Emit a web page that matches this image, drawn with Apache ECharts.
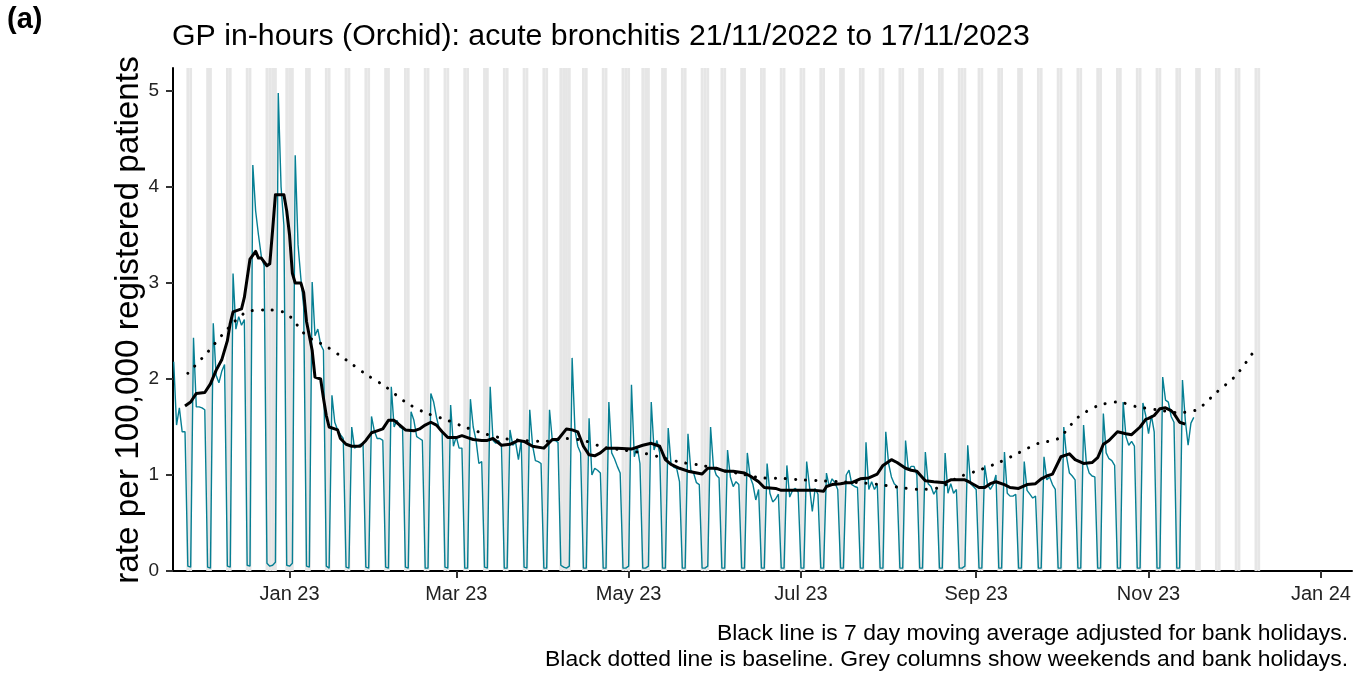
<!DOCTYPE html>
<html>
<head>
<meta charset="utf-8">
<script src="https://cdn.jsdelivr.net/npm/echarts@6/dist/echarts.min.js"></script>
<style>
html, body { margin: 0; padding: 0; background: #fff; }
#chart { width: 1362px; height: 674px; }
</style>
</head>
<body>
<div id="chart"></div>
<script>
// daily rate per 100,000, one row per week (Mon..Sun), starting Mon 21/11/2022
var startDay = [2022, 10, 21];
var dailyRate = [
    2.18, 1.52, 1.70, 1.45, 1.45, 0.05, 0.04,
    2.43, 1.71, 1.71, 1.70, 1.68, 0.04, 0.03,
    2.58, 2.04, 1.96, 2.08, 2.15, 0.05, 0.04,
    3.10, 2.52, 2.65, 2.56, 2.62, 0.06, 0.05,
    4.23, 3.75, 3.50, 3.28, 3.18, 0.08, 0.05,
    0.06, 0.09, 4.98, 4.00, 3.60, 0.06, 0.05,
    0.08, 4.33, 3.40, 3.05, 2.75, 0.05, 0.04,
    3.01, 2.45, 2.52, 2.36, 2.30, 0.05, 0.03,
    1.83, 1.55, 1.47, 1.42, 1.38, 0.04, 0.03,
    1.50, 1.28, 1.30, 1.32, 1.33, 0.04, 0.03,
    1.61, 1.46, 1.38, 1.38, 1.36, 0.04, 0.03,
    1.92, 1.50, 1.57, 1.50, 1.48, 0.04, 0.03,
    1.66, 1.57, 1.40, 1.38, 1.36, 0.03, 0.03,
    1.85, 1.76, 1.60, 1.48, 1.45, 0.04, 0.03,
    1.73, 1.30, 1.40, 1.28, 1.28, 0.03, 0.03,
    1.79, 1.50, 1.36, 1.12, 1.14, 0.04, 0.03,
    1.92, 1.36, 1.33, 1.36, 1.30, 0.03, 0.03,
    1.47, 1.31, 1.34, 1.16, 1.36, 0.04, 0.03,
    1.68, 1.31, 1.15, 1.14, 1.12, 0.03, 0.03,
    1.68, 1.36, 1.36, 1.34, 0.06, 0.04, 0.03,
    0.05, 2.22, 1.47, 1.30, 1.23, 0.03, 0.03,
    1.59, 1.00, 1.07, 1.05, 1.02, 0.03, 0.03,
    1.76, 1.23, 1.17, 1.09, 1.02, 0.03, 0.03,
    0.05, 1.94, 1.19, 1.30, 1.12, 0.03, 0.03,
    0.05, 1.76, 1.26, 1.36, 1.23, 0.03, 0.03,
    1.49, 1.12, 1.08, 1.07, 0.93, 0.03, 0.03,
    1.43, 1.05, 1.02, 0.92, 0.90, 0.03, 0.03,
    0.05, 1.50, 1.09, 1.00, 0.97, 0.03, 0.03,
    1.26, 0.98, 0.88, 0.93, 0.90, 0.03, 0.03,
    1.23, 0.98, 0.90, 0.74, 0.85, 0.03, 0.03,
    1.12, 0.81, 0.72, 0.75, 0.80, 0.03, 0.03,
    1.10, 0.77, 0.84, 0.86, 0.82, 0.03, 0.03,
    1.14, 0.88, 0.62, 0.86, 0.80, 0.03, 0.03,
    1.02, 0.88, 0.96, 0.92, 0.85, 0.03, 0.03,
    1.00, 1.05, 0.90, 0.88, 0.87, 0.03, 0.03,
    1.34, 0.85, 0.93, 0.85, 0.90, 0.03, 0.03,
    1.45, 1.12, 0.98, 0.91, 0.88, 0.03, 0.03,
    1.36, 1.05, 1.09, 1.09, 1.00, 0.03, 0.03,
    1.24, 0.91, 0.88, 0.80, 0.85, 0.03, 0.03,
    1.23, 0.81, 0.91, 0.81, 0.85, 0.03, 0.03,
    0.05, 1.31, 0.91, 0.88, 0.85, 0.03, 0.03,
    1.10, 0.90, 0.85, 0.90, 1.00, 0.03, 0.03,
    1.24, 0.81, 0.78, 0.78, 0.80, 0.03, 0.03,
    1.14, 0.84, 0.80, 0.76, 0.78, 0.03, 0.03,
    1.19, 0.95, 0.98, 0.90, 0.85, 0.03, 0.03,
    1.50, 1.19, 1.02, 0.99, 0.95, 0.03, 0.03,
    1.52, 1.12, 1.02, 0.99, 0.98, 0.03, 0.03,
    1.64, 1.23, 1.17, 1.15, 1.10, 0.03, 0.03,
    1.76, 1.40, 1.31, 1.35, 1.30, 0.03, 0.03,
    1.75, 1.62, 1.43, 1.62, 1.45, 0.03, 0.03,
    2.02, 1.78, 1.76, 1.61, 1.55, 0.03, 0.03,
    1.99, 1.57, 1.31, 1.54, 1.60
];

// 7 day moving average, read at these day numbers (days after 21/11/2022)
var maDay = [4, 6, 8, 11, 13, 15, 17, 19, 20, 21, 24, 25, 27, 29, 30, 31, 33, 34, 35, 36,
    39, 40, 41, 42, 43, 45, 46, 47, 49, 50, 52, 53, 54, 55, 58, 59, 61, 63, 66, 68,
    70, 72, 74, 76, 78, 80, 82, 85, 87, 89, 91, 93, 95, 97, 100, 102, 104, 106, 109, 111,
    113, 116, 119, 122, 124, 127, 131, 134, 136, 139, 141, 143, 145, 147, 149, 151, 153, 157, 162, 166,
    169, 171, 172, 174, 176, 179, 182, 187, 189, 192, 195, 198, 202, 204, 207, 209, 213, 215, 218, 221,
    224, 227, 230, 231, 233, 236, 238, 240, 243, 246, 249, 251, 254, 256, 259, 261, 263, 266, 269, 273,
    275, 280, 282, 285, 287, 289, 291, 294, 296, 299, 302, 305, 307, 309, 311, 314, 317, 319, 322, 325,
    327, 329, 331, 334, 337, 339, 342, 344, 345, 347, 349, 351, 353, 354, 356, 358];
var maRate = [1.72, 1.76, 1.85, 1.86, 1.95, 2.09, 2.20, 2.40, 2.58, 2.70, 2.73, 2.85, 3.25, 3.33, 3.26, 3.26, 3.18, 3.20, 3.55, 3.92,
    3.92, 3.75, 3.50, 3.10, 3.00, 3.00, 2.90, 2.60, 2.30, 2.02, 2.00, 1.80, 1.62, 1.50, 1.47, 1.38, 1.32, 1.30, 1.30, 1.36,
    1.44, 1.46, 1.48, 1.57, 1.57, 1.52, 1.47, 1.46, 1.48, 1.52, 1.55, 1.52, 1.45, 1.39, 1.39, 1.41, 1.39, 1.37, 1.36, 1.36,
    1.38, 1.31, 1.32, 1.36, 1.35, 1.30, 1.28, 1.37, 1.37, 1.48, 1.47, 1.45, 1.30, 1.21, 1.20, 1.23, 1.28, 1.28, 1.27, 1.31,
    1.33, 1.31, 1.30, 1.16, 1.11, 1.07, 1.04, 1.01, 1.07, 1.07, 1.04, 1.04, 1.02, 0.99, 0.93, 0.87, 0.86, 0.84, 0.84, 0.84,
    0.84, 0.84, 0.83, 0.88, 0.90, 0.91, 0.92, 0.92, 0.96, 0.97, 1.01, 1.10, 1.16, 1.13, 1.07, 1.05, 1.04, 0.94, 0.93, 0.92,
    0.95, 0.95, 0.92, 0.87, 0.87, 0.91, 0.93, 0.90, 0.87, 0.86, 0.90, 0.91, 0.96, 0.99, 1.01, 1.19, 1.22, 1.16, 1.12, 1.13,
    1.18, 1.32, 1.36, 1.45, 1.43, 1.42, 1.50, 1.58, 1.59, 1.62, 1.69, 1.70, 1.67, 1.64, 1.55, 1.53];

// baseline, one value a week from Sat 26/11/2022
var baselineStart = [2022, 10, 26];
var baselineRate = [2.06, 2.28, 2.52, 2.70, 2.72, 2.68, 2.45, 2.34, 2.20, 2.05,
    1.92, 1.76, 1.65, 1.58, 1.50, 1.43, 1.38, 1.36, 1.35, 1.38,
    1.36, 1.29, 1.26, 1.23, 1.18, 1.13, 1.10, 1.05, 1.01, 0.97,
    0.965, 0.95, 0.94, 0.93, 0.92, 0.90, 0.87, 0.85, 0.87, 0.98,
    1.05, 1.13, 1.23, 1.33, 1.38, 1.60, 1.72, 1.76, 1.71, 1.68,
    1.65, 1.68, 1.86, 2.04, 2.32];

var bankHolidays = ['2022-12-26', '2022-12-27', '2023-01-02', '2023-04-07', '2023-04-10',
    '2023-05-01', '2023-05-08', '2023-05-29', '2023-08-28'];
var greyUntil = [2023, 11, 10];

var xTickDates = [[2023, 0, 1], [2023, 2, 1], [2023, 4, 1], [2023, 6, 1], [2023, 8, 1], [2023, 10, 1], [2024, 0, 1]];
var monthNames = ['Jan', 'Feb', 'Mar', 'Apr', 'May', 'Jun', 'Jul', 'Aug', 'Sep', 'Oct', 'Nov', 'Dec'];
var yTicks = [0, 1, 2, 3, 4, 5];

var DAY = 86400000;
var FONT = '"Liberation Sans", Arial, sans-serif';

function dayTime(ymd, plus) {
    return new Date(ymd[0], ymd[1], ymd[2] + (plus || 0)).getTime();
}
function ymdString(t) {
    var d = new Date(t);
    var m = d.getMonth() + 1, dd = d.getDate();
    return d.getFullYear() + '-' + (m < 10 ? '0' : '') + m + '-' + (dd < 10 ? '0' : '') + dd;
}

var dailyData = dailyRate.map(function (v, i) { return [dayTime(startDay, i), v]; });
var maData = maDay.map(function (d, i) { return [dayTime(startDay, d), maRate[i]]; });
var baselineData = baselineRate.map(function (v, i) { return [dayTime(baselineStart, i * 7), v]; });

// grey columns: weekends and bank holidays
var greyAreas = [];
var lastGrey = dayTime(greyUntil);
for (var i = 0; dayTime(startDay, i) <= lastGrey; i++) {
    var t = dayTime(startDay, i);
    var dow = new Date(t).getDay();
    if (dow === 0 || dow === 6 || bankHolidays.indexOf(ymdString(t)) >= 0) {
        greyAreas.push([{ xAxis: t - DAY / 2 }, { xAxis: t + DAY / 2 }]);
    }
}

var xTicks = xTickDates.map(function (d) { return dayTime(d); });

var option = {
    animation: false,
    backgroundColor: '#ffffff',
    title: [{
        text: '(a)',
        left: 7, top: 5, padding: 0,
        textStyle: { fontFamily: FONT, fontSize: 29, fontWeight: 'bold', color: '#000' }
    }, {
        text: 'GP in-hours (Orchid): acute bronchitis 21/11/2022 to 17/11/2023',
        left: 172, top: 22, padding: 0,
        textStyle: { fontFamily: FONT, fontSize: 30.3, fontWeight: 'normal', color: '#000' }
    }],
    graphic: [{
        type: 'text', x: 129, y: 320, rotation: Math.PI / 2,
        style: { text: 'rate per 100,000 registered patients', font: '33.3px ' + FONT, fill: '#000', align: 'center', verticalAlign: 'middle' }
    }, {
        type: 'text', x: 1348, y: 634,
        style: { text: 'Black line is 7 day moving average adjusted for bank holidays.', font: '22.9px ' + FONT, fill: '#000', align: 'right', verticalAlign: 'middle' }
    }, {
        type: 'text', x: 1348, y: 660,
        style: { text: 'Black dotted line is baseline. Grey columns show weekends and bank holidays.', font: '22.9px ' + FONT, fill: '#000', align: 'right', verticalAlign: 'middle' }
    }],
    grid: { left: 173, right: 10, top: 68, bottom: 103, containLabel: false },
    xAxis: {
        type: 'value',
        min: dayTime(startDay) - DAY / 4,
        max: dayTime([2024, 0, 12]),
        axisLine: { lineStyle: { color: '#000', width: 2 } },
        axisTick: { customValues: xTicks, length: 7, lineStyle: { color: '#333', width: 2 } },
        axisLabel: {
            customValues: xTicks, margin: 13,
            fontFamily: FONT, fontSize: 20, color: '#222',
            formatter: function (v) {
                var d = new Date(v);
                return monthNames[d.getMonth()] + ' ' + String(d.getFullYear()).slice(2);
            }
        },
        splitLine: { show: false }
    },
    yAxis: {
        type: 'value',
        min: 0, max: 5.24,
        axisLine: { show: true, lineStyle: { color: '#000', width: 2 } },
        axisTick: { show: true, customValues: yTicks, length: 7, lineStyle: { color: '#333', width: 2 } },
        axisLabel: { customValues: yTicks, margin: 14, fontFamily: FONT, fontSize: 19, color: '#222' },
        splitLine: { show: false }
    },
    series: [{
        name: 'grey', type: 'line', data: [], z: 1, silent: true,
        markArea: { silent: true, itemStyle: { color: '#e6e6e6' }, data: greyAreas }
    }, {
        name: 'daily', type: 'line', data: dailyData, z: 3,
        showSymbol: false, lineStyle: { color: '#067f93', width: 1.4 }
    }, {
        name: 'baseline', type: 'line', data: baselineData, z: 4, smooth: 0.3,
        showSymbol: false, lineStyle: { color: '#000', width: 3, type: [0.1, 10], cap: 'round' }
    }, {
        name: 'ma', type: 'line', data: maData, z: 5,
        showSymbol: false, lineStyle: { color: '#000', width: 3, join: 'round' }
    }]
};

var chart = echarts.init(document.getElementById('chart'));
chart.setOption(option);
</script>
</body>
</html>
